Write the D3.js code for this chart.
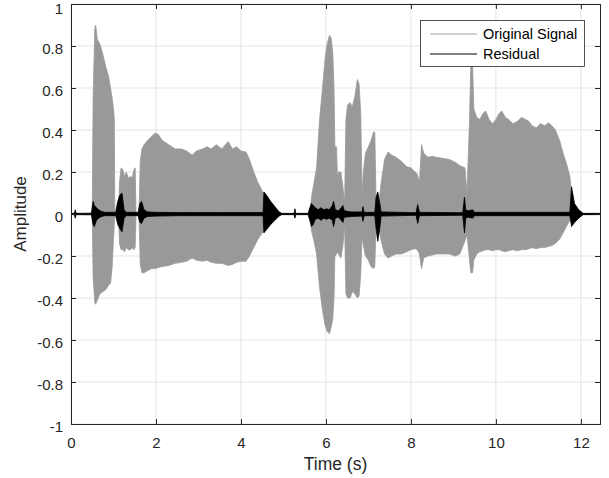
<!DOCTYPE html>
<html><head><meta charset="utf-8">
<script src="https://cdn.jsdelivr.net/npm/d3@7"></script>
<style>body{margin:0;background:#fff}svg{display:block}</style>
</head><body>
<svg id="c" width="609" height="478"></svg>
<script>
// ---- Data ----
const xTicks = [0, 2, 4, 6, 8, 10, 12];
const yTicks = [-1, -0.8, -0.6, -0.4, -0.2, 0, 0.2, 0.4, 0.6, 0.8, 1];
const yTickLabels = ["-1","-0.8","-0.6","-0.4","-0.2","0","0.2","0.4","0.6","0.8","1"];
const seriesNames = ["Original Signal", "Residual"];

// Original signal envelope: time (s), upper, lower
const sigT = [0,0.50,0.52,0.56,0.58,0.62,0.68,0.75,0.82,0.88,0.93,0.97,1.00,1.02,1.03,
  1.12,1.14,1.18,1.22,1.26,1.30,1.35,1.40,1.44,1.48,1.51,1.53,
  1.60,1.63,1.67,1.72,1.80,1.90,1.98,2.05,2.15,2.30,2.45,2.60,2.72,2.85,2.95,3.10,3.20,3.30,3.42,3.55,3.70,3.80,3.90,4.00,4.12,4.20,4.30,4.40,4.50,4.60,4.70,4.75,
  5.62,5.66,5.72,5.78,5.85,5.92,5.98,6.03,6.08,6.12,6.16,6.19,6.21,6.25,6.27,6.30,6.35,6.40,6.44,
  6.47,6.51,6.57,6.62,6.68,6.74,6.78,6.82,6.85,6.88,6.93,7.00,7.06,7.12,7.15,7.18,7.25,
  7.30,7.38,7.46,7.55,7.65,7.78,7.90,8.00,8.10,8.15,8.20,8.25,8.30,8.40,8.50,8.60,8.75,8.90,9.05,9.15,9.27,9.32,
  9.38,9.41,9.45,9.48,9.55,9.62,9.70,9.76,9.84,9.92,10.00,10.08,10.14,10.22,10.30,10.40,10.50,10.60,10.70,10.78,10.85,10.95,11.05,11.15,11.23,11.32,11.40,11.50,11.58,11.66,11.74,11.80,11.82,12.45];
const sigUpper = [0,0,0.55,0.88,0.90,0.83,0.81,0.76,0.70,0.66,0.60,0.55,0.50,0.45,0,
  0,0.15,0.22,0.21,0.18,0.20,0.17,0.18,0.17,0.21,0.22,0,
  0,0.25,0.31,0.33,0.35,0.37,0.385,0.38,0.35,0.33,0.31,0.31,0.30,0.28,0.30,0.31,0.32,0.31,0.33,0.31,0.345,0.31,0.32,0.30,0.295,0.26,0.20,0.15,0.11,0.07,0.02,0,
  0,0.08,0.15,0.22,0.45,0.60,0.74,0.81,0.85,0.84,0.77,0.60,0.32,0.32,0.18,0.20,0.20,0.13,0.05,
  0.45,0.52,0.53,0.51,0.56,0.64,0.62,0.47,0.10,0.20,0.29,0.32,0.35,0.39,0.39,0.05,0.06,
  0.15,0.26,0.295,0.28,0.27,0.25,0.225,0.22,0.20,0.19,0.15,0.33,0.29,0.27,0.275,0.27,0.265,0.26,0.245,0.23,0.22,0.10,
  0.45,0.72,0.72,0.50,0.46,0.45,0.48,0.49,0.45,0.43,0.45,0.48,0.49,0.46,0.45,0.43,0.44,0.46,0.45,0.44,0.42,0.41,0.43,0.42,0.435,0.42,0.40,0.35,0.29,0.24,0.18,0.05,0,0];
const sigLower = [0,0,-0.30,-0.42,-0.43,-0.41,-0.38,-0.37,-0.36,-0.34,-0.33,-0.25,-0.12,-0.05,0,
  0,-0.14,-0.17,-0.17,-0.18,-0.16,-0.17,-0.17,-0.16,-0.17,-0.16,0,
  0,-0.24,-0.28,-0.28,-0.27,-0.26,-0.26,-0.255,-0.25,-0.245,-0.235,-0.23,-0.225,-0.21,-0.22,-0.225,-0.22,-0.23,-0.235,-0.235,-0.245,-0.24,-0.23,-0.225,-0.225,-0.20,-0.16,-0.12,-0.09,-0.06,-0.02,0,
  0,-0.08,-0.13,-0.19,-0.35,-0.46,-0.53,-0.56,-0.57,-0.54,-0.50,-0.40,-0.20,-0.19,-0.18,-0.19,-0.21,-0.15,-0.05,
  -0.38,-0.40,-0.40,-0.37,-0.38,-0.40,-0.39,-0.28,-0.10,-0.15,-0.20,-0.22,-0.25,-0.26,-0.25,-0.05,-0.06,
  -0.13,-0.19,-0.21,-0.20,-0.19,-0.19,-0.18,-0.17,-0.165,-0.17,-0.19,-0.26,-0.21,-0.20,-0.195,-0.19,-0.19,-0.19,-0.20,-0.19,-0.13,-0.10,
  -0.22,-0.28,-0.28,-0.22,-0.19,-0.18,-0.175,-0.17,-0.17,-0.175,-0.17,-0.17,-0.175,-0.18,-0.175,-0.17,-0.175,-0.17,-0.17,-0.165,-0.16,-0.165,-0.16,-0.16,-0.155,-0.15,-0.14,-0.12,-0.09,-0.06,-0.03,-0.01,0,0];

// Residual envelope: time (s), upper, lower
const resT = [0,0.08,0.10,0.12,0.48,0.52,0.55,0.60,0.65,0.72,0.80,1.05,1.10,1.15,1.20,1.25,1.30,1.58,1.62,1.66,1.72,1.80,2.00,2.50,3.00,3.50,4.00,4.52,
  4.54,4.60,4.70,4.80,4.90,4.96,5.25,5.27,5.29,5.58,5.62,5.66,5.70,5.75,5.82,5.88,5.95,6.02,6.08,6.15,6.18,6.22,6.30,6.40,6.43,6.60,6.85,6.87,6.90,
  7.15,7.18,7.22,7.26,7.30,8.12,8.16,8.20,9.22,9.26,9.29,9.35,9.45,9.50,11.74,11.78,11.85,11.95,12.05,12.45];
const resUpper = [0.003,0.003,0.02,0.003,0.004,0.06,0.04,0.03,0.02,0.012,0.008,0.008,0.06,0.09,0.10,0.02,0.008,0.008,0.05,0.06,0.02,0.01,0.008,0.007,0.007,0.007,0.007,0.007,
  0.105,0.09,0.06,0.035,0.01,0.003,0.003,0.025,0.003,0.003,0.03,0.05,0.04,0.03,0.02,0.03,0.02,0.025,0.02,0.04,0.06,0.02,0.015,0.04,0.015,0.01,0.01,0.035,0.008,
  0.008,0.08,0.105,0.06,0.01,0.006,0.045,0.008,0.006,0.08,0.02,0.015,0.02,0.008,0.008,0.13,0.05,0.02,0.003,0.003];
const resLower = [-0.003,-0.003,-0.02,-0.003,-0.004,-0.05,-0.06,-0.03,-0.02,-0.012,-0.008,-0.008,-0.05,-0.07,-0.085,-0.02,-0.008,-0.008,-0.04,-0.045,-0.02,-0.012,-0.01,-0.008,-0.008,-0.008,-0.008,-0.008,
  -0.09,-0.075,-0.05,-0.03,-0.01,-0.003,-0.003,-0.02,-0.003,-0.003,-0.03,-0.06,-0.05,-0.025,-0.02,-0.03,-0.02,-0.025,-0.02,-0.03,-0.06,-0.02,-0.015,-0.04,-0.015,-0.012,-0.01,-0.035,-0.008,
  -0.008,-0.07,-0.13,-0.08,-0.01,-0.006,-0.045,-0.008,-0.006,-0.09,-0.02,-0.015,-0.02,-0.008,-0.008,-0.06,-0.04,-0.02,-0.003,-0.003];

// ---- Drawing ----
const L = 71, R = 600, T = 4, B = 424;
const axisCol = "#262626", gridCol = "#e3e3e3", sigCol = "#999999";
const svg = d3.select("#c");
const x = d3.scaleLinear().domain([0, 12.45]).range([L, R]);
const y = d3.scaleLinear().domain([-1, 1]).range([B, T]);
const font = "'Liberation Sans', Arial, Helvetica, sans-serif";

// grid
const g = svg.append("g");
g.selectAll("line.vx").data(xTicks).join("line")
  .attr("x1", d => x(d)).attr("x2", d => x(d)).attr("y1", T).attr("y2", B)
  .attr("stroke", gridCol).attr("stroke-width", 1);
g.selectAll("line.hy").data(yTicks).join("line")
  .attr("x1", L).attr("x2", R).attr("y1", d => y(d)).attr("y2", d => y(d))
  .attr("stroke", gridCol).attr("stroke-width", 1);

svg.append("clipPath").attr("id", "clip").append("rect")
  .attr("x", L).attr("y", T).attr("width", R - L).attr("height", B - T);
const plot = svg.append("g").attr("clip-path", "url(#clip)");

const sigData = sigT.map((t, i) => ({t, u: sigUpper[i], l: sigLower[i]}));
const resData = resT.map((t, i) => ({t, u: resUpper[i], l: resLower[i]}));
const area = d3.area().x(d => x(d.t)).y0(d => y(d.l)).y1(d => y(d.u));

plot.append("path").datum(sigData).attr("d", area)
  .attr("fill", sigCol).attr("stroke", sigCol).attr("stroke-width", 0.8);
plot.append("path").datum(resData).attr("d", area)
  .attr("fill", "#000").attr("stroke", "#000").attr("stroke-width", 0.8);

// axes
const fmtY = d => yTickLabels[yTicks.indexOf(d)] ?? d;
const ax = svg.append("g").attr("transform", `translate(0,${B})`)
  .call(d3.axisBottom(x).tickValues(xTicks).tickSize(-5).tickPadding(13).tickFormat(d3.format("d")));
const ay = svg.append("g").attr("transform", `translate(${L},0)`)
  .call(d3.axisLeft(y).tickValues(yTicks).tickSize(-5).tickPadding(8).tickFormat(fmtY));
const axT = svg.append("g").attr("transform", `translate(0,${T})`)
  .call(d3.axisTop(x).tickValues(xTicks).tickSize(-5).tickFormat(""));
const ayR = svg.append("g").attr("transform", `translate(${R},0)`)
  .call(d3.axisRight(y).tickValues(yTicks).tickSize(-5).tickFormat(""));
[ax, ay, axT, ayR].forEach(a => {
  a.select(".domain").attr("stroke", axisCol).attr("stroke-width", 1);
  a.selectAll(".tick line").attr("stroke", axisCol);
  a.selectAll("text").attr("fill", axisCol).style("font-family", font).style("font-size", "15px");
});
// keep the top label "1" fully inside the picture
ay.selectAll(".tick text").attr("y", d => d === 1 ? 5 : 2.5);

svg.append("text").attr("x", (L + R) / 2).attr("y", 470).attr("text-anchor", "middle")
  .attr("fill", axisCol).style("font-family", font).style("font-size", "17.5px").text("Time (s)");
svg.append("text").attr("transform", `translate(26,${(T + B) / 2}) rotate(-90)`).attr("text-anchor", "middle")
  .attr("fill", axisCol).style("font-family", font).style("font-size", "17px").text("Amplitude");

// legend
const lg = svg.append("g");
lg.append("rect").attr("x", 420.5).attr("y", 20.5).attr("width", 164).attr("height", 46)
  .attr("fill", "#fff").attr("stroke", axisCol).attr("stroke-width", 0.8);
seriesNames.forEach((n, i) => {
  const yy = 34 + i * 20;
  lg.append("line").attr("x1", 430).attr("x2", 477).attr("y1", yy).attr("y2", yy)
    .attr("stroke", i === 0 ? "#8a8a8a" : "#000").attr("stroke-width", i === 0 ? 0.8 : 1);
  lg.append("text").attr("x", 483).attr("y", yy + 5).attr("fill", "#000")
    .style("font-family", font).style("font-size", "14.5px").text(n);
});
</script>
</body></html>
